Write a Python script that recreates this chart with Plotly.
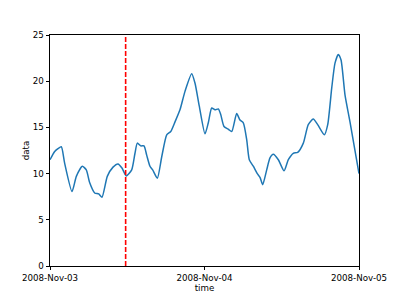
import pandas as pd
import plotly.graph_objects as go

base_date = "2008-11-03"
hours = [0.0, 0.73, 1.24, 1.76, 2.28, 3.42, 4.09, 5.02, 5.64, 6.17, 6.94, 7.57, 8.08,
         8.90, 9.79, 10.56, 11.18, 11.85, 12.69, 13.20, 13.56, 14.09, 14.60, 15.02,
         15.53, 15.95, 16.67, 17.35, 18.13, 18.75, 19.42, 20.19, 20.97, 22.01, 22.52,
         23.19, 24.08, 24.59, 25.12, 25.63, 26.14, 26.52, 27.03, 27.70, 28.23, 29.00,
         29.51, 30.03, 30.56, 30.96, 31.58, 32.20, 32.62, 33.04, 33.66, 34.17, 34.69,
         35.47, 36.36, 37.02, 37.79, 38.48, 39.35, 40.12, 40.90, 41.58, 42.61, 43.14,
         43.76, 44.27, 44.79, 45.21, 45.83, 46.60, 48.0]
values = [11.5, 12.4, 12.7, 12.9, 11.1, 8.05, 9.7, 10.8, 10.4, 9.0, 7.9, 7.8, 7.45,
          9.7, 10.7, 11.05, 10.6, 9.75, 10.4, 12.2, 13.3, 13.0, 13.0, 12.0,
          10.8, 10.4, 9.5, 11.8, 14.2, 14.55, 15.6, 16.9, 18.9, 20.8, 19.8,
          17.3, 14.3, 15.5, 17.1, 16.9, 17.0, 16.4, 15.1, 14.8, 14.55, 16.5,
          15.8, 15.5, 13.65, 11.5, 10.8, 10.0, 9.6, 8.8, 10.4, 11.7, 12.1,
          11.5, 10.3, 11.5, 12.2, 12.3, 13.3, 15.3, 15.9, 15.3, 14.2, 15.3,
          19.25, 21.96, 22.9, 22.3, 18.5, 15.6, 10.0]
marker_time = "2008-11-03 11:45"
tick_dates = ["2008-11-03", "2008-11-04", "2008-11-05"]
tick_labels = ["2008-Nov-03", "2008-Nov-04", "2008-Nov-05"]
y_ticks = [0, 5, 10, 15, 20, 25]

times = pd.Timestamp(base_date) + pd.to_timedelta(hours, unit="h")

fig = go.Figure()
fig.add_trace(go.Scatter(x=times, y=values, mode="lines",
                         line=dict(color="#1f77b4", width=1.5, shape="spline", smoothing=0.6),
                         showlegend=False, cliponaxis=True))
fig.add_shape(type="line", x0=marker_time, x1=marker_time, y0=0, y1=1, yref="paper",
              line=dict(color="#ff0000", width=1.6, dash="5px,2px"))

axis_common = dict(showline=True, linecolor="black", linewidth=0.8, mirror=True,
                   ticks="outside", ticklen=3.5, tickwidth=0.8, tickcolor="black",
                   showgrid=False, zeroline=False,
                   tickfont=dict(size=8.7, color="black", family="DejaVu Sans"))

fig.update_layout(
    width=391, height=291,
    margin=dict(l=42, r=40, t=27, b=33),
    paper_bgcolor="white", plot_bgcolor="white",
    font=dict(family="DejaVu Sans", size=8.7, color="black"),
    xaxis=dict(range=[tick_dates[0], tick_dates[-1]], tickvals=tick_dates, ticktext=tick_labels,
               title=dict(text="time", font=dict(size=8.7), standoff=2), automargin=False,
               **axis_common),
    yaxis=dict(range=[0, 25], tickvals=y_ticks,
               title=dict(text="data", font=dict(size=8.7), standoff=1), automargin=False,
               **axis_common),
)
fig.write_html("out.html")
